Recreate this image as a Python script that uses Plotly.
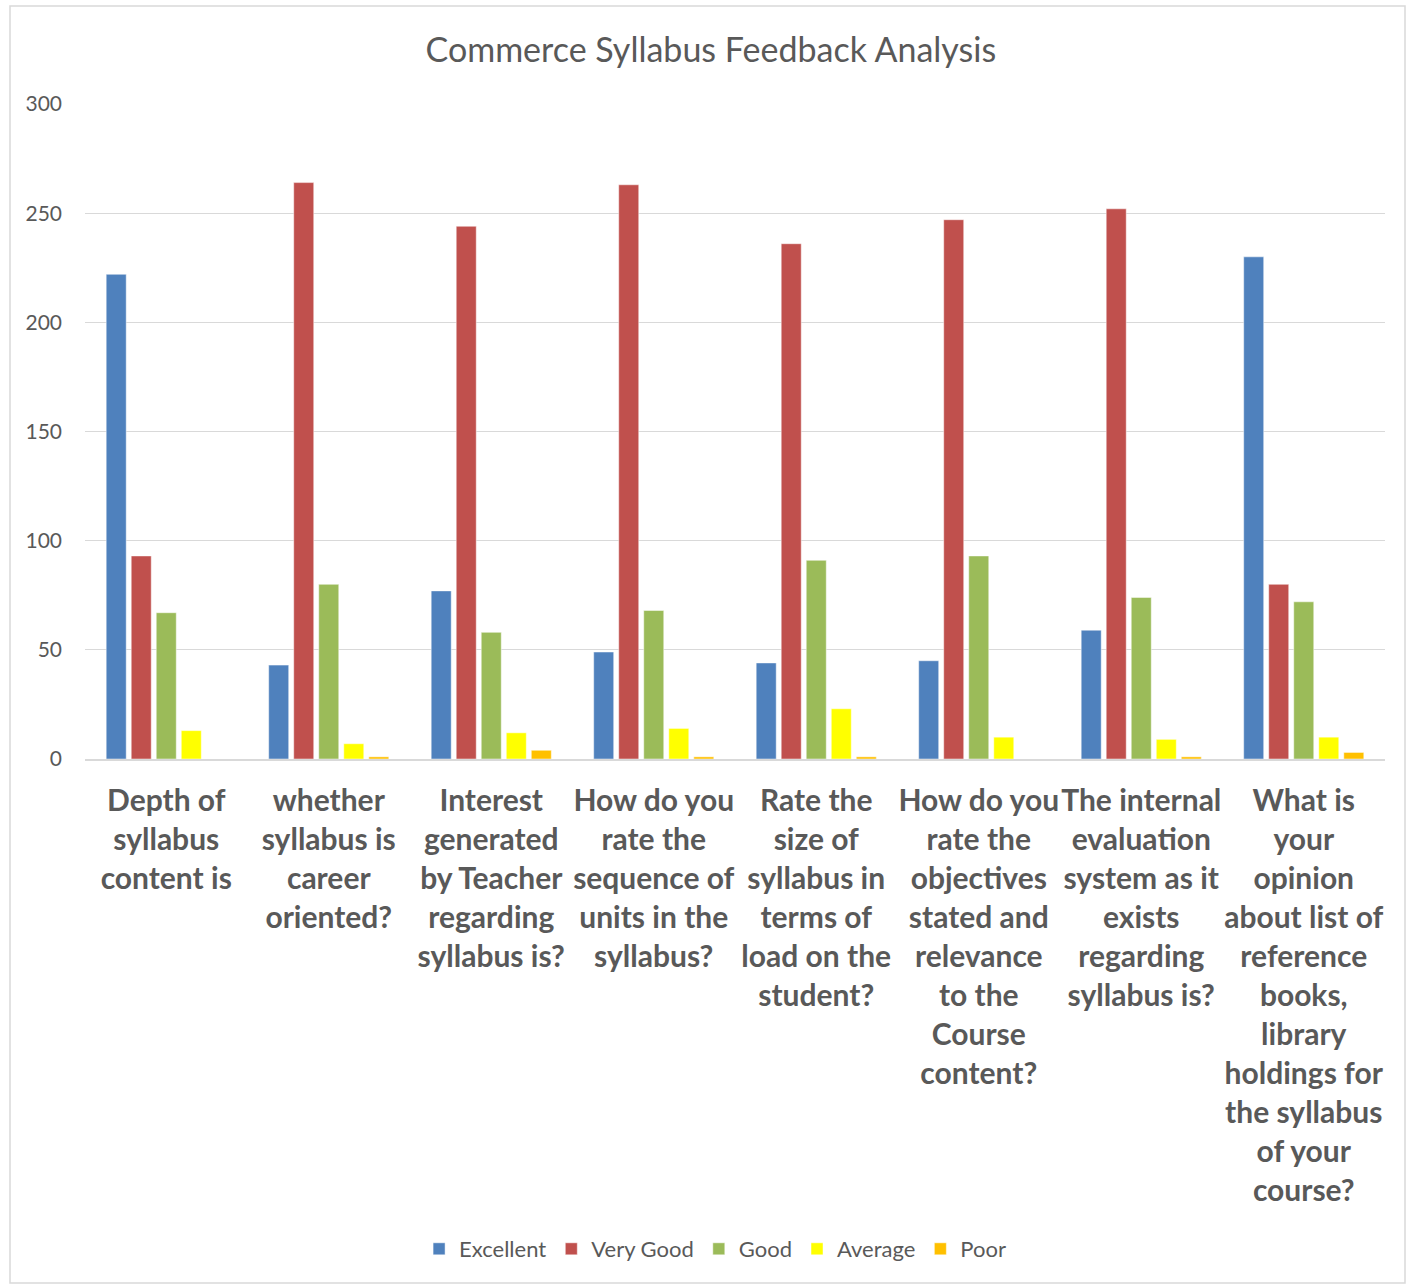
import plotly.graph_objects as go

categories = [
    "Depth of<br>syllabus<br>content is",
    "whether<br>syllabus is<br>career<br>oriented?",
    "Interest<br>generated<br>by Teacher<br>regarding<br>syllabus is?",
    "How do you<br>rate the<br>sequence of<br>units in the<br>syllabus?",
    "Rate the<br>size of<br>syllabus in<br>terms of<br>load on the<br>student?",
    "How do you<br>rate the<br>objectives<br>stated and<br>relevance<br>to the<br>Course<br>content?",
    "The internal<br>evaluation<br>system as it<br>exists<br>regarding<br>syllabus is?",
    "What is<br>your<br>opinion<br>about list of<br>reference<br>books,<br>library<br>holdings for<br>the syllabus<br>of your<br>course?",
]
excellent = [222, 43, 77, 49, 44, 45, 59, 230]
very_good = [93, 264, 244, 263, 236, 247, 252, 80]
good = [67, 80, 58, 68, 91, 93, 74, 72]
average = [13, 7, 12, 14, 23, 10, 9, 10]
poor = [0, 1, 4, 1, 1, 0, 1, 3]

series = [
    ("Excellent", excellent, "#4F81BD"),
    ("Very Good", very_good, "#C0504D"),
    ("Good", good, "#9BBB59"),
    ("Average", average, "#FFFF00"),
    ("Poor", poor, "#FFC000"),
]

fig = go.Figure()
for name, vals, color in series:
    fig.add_trace(go.Bar(
        name=name, x=categories, y=vals,
        marker=dict(color=color, line=dict(color="rgba(255,255,255,0.6)", width=0.8)),
    ))

fig.update_layout(
    width=1416, height=1287,
    paper_bgcolor="white", plot_bgcolor="white",
    margin=dict(l=85, r=31, t=104, b=528, autoexpand=False),
    barmode="group", bargap=0.23, bargroupgap=0.2,
    font=dict(family="Lato, Open Sans, sans-serif", color="#595959"),
    title=dict(text="Commerce Syllabus Feedback Analysis", x=0.502, xanchor="center",
               xref="container", yref="container",
               y=1 - 50 / 1287, yanchor="middle", font=dict(size=34, color="#595959")),
    legend=dict(orientation="h", x=0.505, xref="container", xanchor="center",
                yref="container", y=1 - 1249 / 1287, yanchor="middle",
                font=dict(size=22, color="#595959"),
                itemwidth=30, tracegroupgap=0),
    showlegend=True,
    shapes=[dict(type="rect", xref="paper", yref="paper",
                 x0=(10 - 85) / 1300, x1=(1405 - 85) / 1300,
                 y0=(759 - 1283) / 655, y1=(759 - 6) / 655,
                 line=dict(color="#D9D9D9", width=1.5), fillcolor="rgba(0,0,0,0)")],
)
fig.update_yaxes(range=[0, 300], dtick=50, gridcolor="#D9D9D9", gridwidth=1.2,
                 tickfont=dict(size=21, color="#595959"), zeroline=False,
                 showline=False, ticks="", ticklabelstandoff=22)
fig.update_xaxes(showline=True, linecolor="#D9D9D9", linewidth=1.5,
                 tickfont=dict(size=30, color="#595959", weight="bold"),
                 tickangle=0, ticks="", ticklabelstandoff=14)

fig.write_html("out.html", config={"displayModeBar": False},
               post_script="document.body.style.margin='0px';")
